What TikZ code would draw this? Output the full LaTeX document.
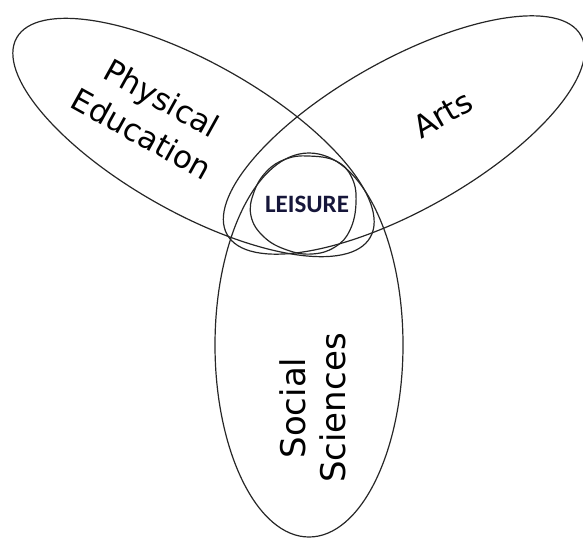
\documentclass[tikz,border=0pt]{standalone}
\usepackage{fontspec}
\setmainfont{DejaVu Sans}
\newfontfamily\leisurefont{Carlito}
\definecolor{leisurenavy}{HTML}{16163A}
\begin{document}
\begin{tikzpicture}[x=1pt,y=-1pt,
  venn/.style={draw=black!85, line width=1.2pt},
  lbl/.style={font=\fontsize{31}{41}\selectfont, align=center, inner sep=0pt},
  lblss/.style={font=\fontsize{34}{40}\selectfont, align=center, inner sep=0pt}]
\useasboundingbox (0,0) rectangle (583,538);
% Physical Education ellipse
\draw[venn, rotate around={-29.4:(193.5,137.5)}] (193.5,137.5) ellipse [x radius=203, y radius=75];
% Arts ellipse
\draw[venn, rotate around={29.4:(404,135)}] (404,135) ellipse [x radius=203, y radius=75];
% Social Sciences ellipse
\draw[venn] (309,345) ellipse [x radius=94, y radius=192];
% Leisure
\draw[venn] plot[smooth cycle, tension=0.7] coordinates {(308,156) (336,161) (352,178) (356,203) (350,230) (335,247) (312,254) (287,250) (264,237) (251,216) (254,192) (267,171) (286,159)};
\node[lbl, rotate=-29] (pe) at (152,116) {Physical\\Education};
\node[lbl, rotate=30] (arts) at (443,114) {Arts};
\node[lblss, rotate=90] (ss) at (313,408) {Social\\Sciences};
\node[inner sep=0pt, text=leisurenavy, font=\leisurefont\bfseries\fontsize{25}{30}\selectfont] (leis) at (307,204) {LEISURE};
\end{tikzpicture}
\end{document}
